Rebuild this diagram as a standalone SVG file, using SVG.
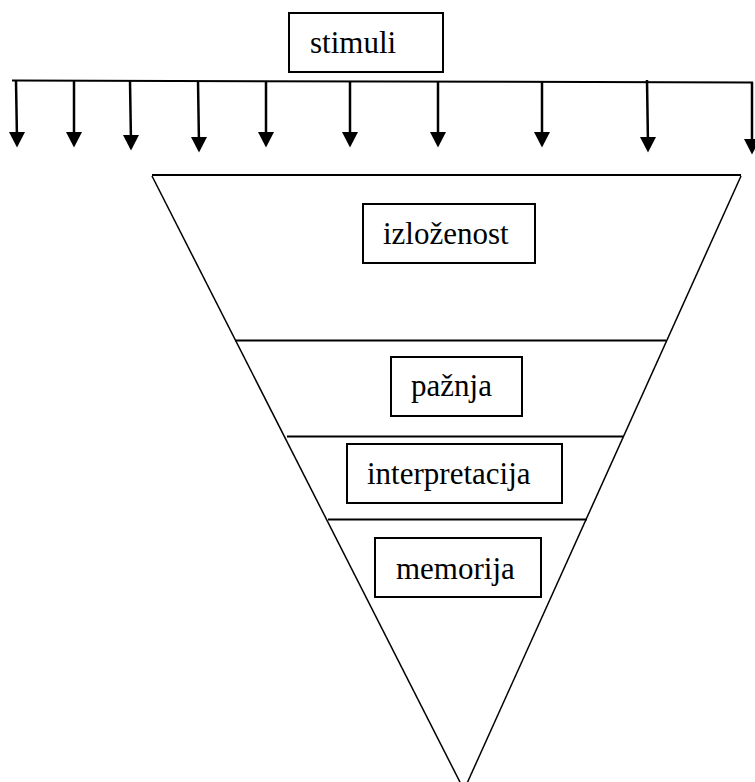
<svg xmlns="http://www.w3.org/2000/svg" width="755" height="782" viewBox="0 0 755 782">
<style>
.box{fill:#fff;stroke:#000;stroke-width:2}
.lbl{font-family:"Liberation Serif","Times New Roman",serif;font-size:31px;fill:#000}
.ln{stroke:#000;stroke-width:2;fill:none}
.side{stroke:#000;stroke-width:1.5;fill:none}
.stem{stroke:#000;stroke-width:2.5;fill:none}
.head{fill:#000}
</style>
<rect width="755" height="782" fill="#fff"/>
<g id="connectors">
<line class="ln" x1="12" y1="80.5" x2="753" y2="82.5"/>
<line class="stem" x1="16" y1="81" x2="17" y2="140"/>
<path class="head" d="M9,132 L25,132 L17,147.5 Z"/>
<line class="stem" x1="74" y1="81" x2="74" y2="140"/>
<path class="head" d="M66,132 L82,132 L74,147.5 Z"/>
<line class="stem" x1="130" y1="81" x2="131" y2="143"/>
<path class="head" d="M123,135 L139,135 L131,150.5 Z"/>
<line class="stem" x1="198" y1="81" x2="199" y2="145"/>
<path class="head" d="M191,137 L207,137 L199,152.5 Z"/>
<line class="stem" x1="266" y1="81" x2="266" y2="140"/>
<path class="head" d="M258,132 L274,132 L266,147.5 Z"/>
<line class="stem" x1="350" y1="81.5" x2="350" y2="140"/>
<path class="head" d="M342,132 L358,132 L350,147.5 Z"/>
<line class="stem" x1="438" y1="82" x2="438" y2="140"/>
<path class="head" d="M430,132 L446,132 L438,147.5 Z"/>
<line class="stem" x1="542" y1="82" x2="542" y2="140"/>
<path class="head" d="M534,132 L550,132 L542,147.5 Z"/>
<line class="stem" x1="647" y1="80" x2="648" y2="145"/>
<path class="head" d="M640,137 L656,137 L648,152.5 Z"/>
<line class="stem" x1="752" y1="82" x2="752" y2="147"/>
<path class="head" d="M744,139 L760,139 L752,154.5 Z"/>
</g>
<g id="funnel">
<line class="ln" x1="152" y1="175" x2="741" y2="175"/>
<line class="side" x1="152" y1="176" x2="464" y2="790"/>
<line class="side" x1="741" y1="176" x2="464" y2="790"/>
<line class="ln" x1="235" y1="340.5" x2="666" y2="340.5"/>
<line class="ln" x1="287" y1="436.5" x2="623" y2="436.5"/>
<line class="ln" x1="328" y1="519.5" x2="587" y2="519.5"/>
</g>
<g id="stimuli">
<rect class="box" x="289" y="13" width="154" height="59"/>
<text class="lbl" x="310" y="53">stimuli</text>
</g>
<g id="izlozenost">
<rect class="box" x="363" y="204" width="172" height="59"/>
<text class="lbl" x="383" y="244">izloženost</text>
</g>
<g id="paznja">
<rect class="box" x="391" y="357" width="131" height="59"/>
<text class="lbl" x="411" y="396">pažnja</text>
</g>
<g id="interpretacija">
<rect class="box" x="347" y="444" width="215" height="59"/>
<text class="lbl" x="367" y="484">interpretacija</text>
</g>
<g id="memorija">
<rect class="box" x="375" y="538" width="166" height="59"/>
<text class="lbl" x="396" y="579">memorija</text>
</g>
</svg>
